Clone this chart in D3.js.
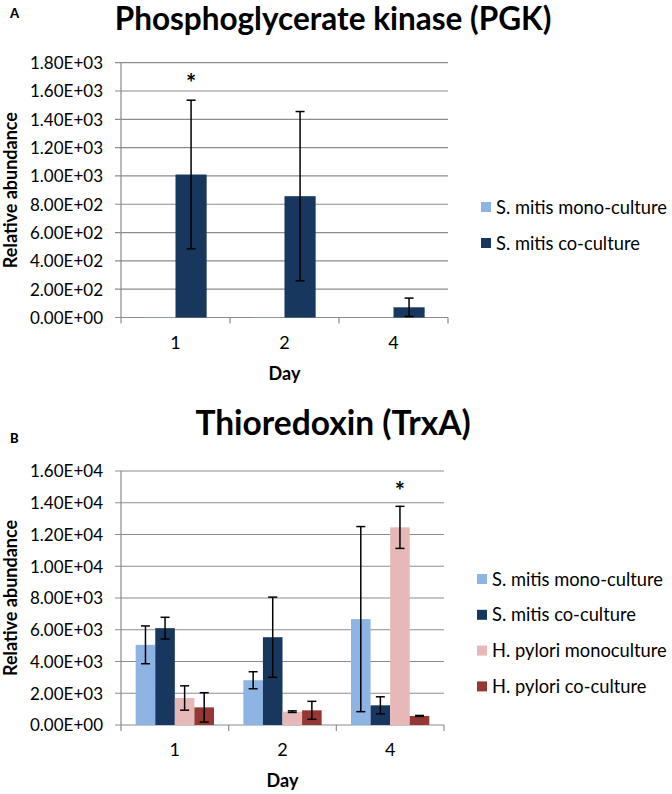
<!DOCTYPE html>
<html>
<head>
<meta charset="utf-8">
<script src="https://cdn.jsdelivr.net/npm/d3@7"></script>
<style>
  body { margin: 0; background: #fff; }
  text { font-family: Lato, "Open Sans", sans-serif; }
</style>
</head>
<body>
<svg id="fig" width="672" height="794"></svg>
<script>
// ---- data ----
const days = ["1", "2", "4"];

const pgkSeries = ["S. mitis mono-culture", "S. mitis co-culture"];
const pgkMono = [2, 2, 1];
const pgkMonoErr = [0, 0, 0];
const pgkCo = [1010, 857, 72];
const pgkCoErr = [525, 598, 65];

const trxSeries = ["S. mitis mono-culture", "S. mitis co-culture", "H. pylori monoculture", "H. pylori co-culture"];
const trxSMono = [5050, 2820, 6670];
const trxSMonoErr = [1190, 536, 5830];
const trxSCo = [6100, 5530, 1240];
const trxSCoErr = [685, 2525, 537];
const trxHMono = [1700, 840, 12450];
const trxHMonoErr = [767, 50, 1325];
const trxHCo = [1110, 925, 570];
const trxHCoErr = [925, 567, 30];

const pgkStars = [{ day: "1", series: 1 }];
const trxStars = [{ day: "4", series: 2 }];

const colors = ["#8eb4e3", "#17375e", "#e6b9b8", "#953735"];

const svg = d3.select("#fig");
const fmt = v => {
  const [m, e] = v.toExponential(2).split("e");
  const n = Math.abs(+e);
  return m + "E" + (+e < 0 ? "-" : "+") + (n < 10 ? "0" + n : n);
};

function drawChart(cfg) {
  const g = svg.append("g");
  const y = d3.scaleLinear().domain([0, cfg.yMax]).range([cfg.bottom, cfg.top]);
  const x = d3.scaleBand().domain(days).range([cfg.left, cfg.right]);
  const inner = d3.scaleBand().domain(d3.range(cfg.values.length))
    .range([0, x.bandwidth()]).paddingInner(0).paddingOuter(0.75);

  // panel letter and title
  g.append("text").attr("x", 10).attr("y", cfg.letterY)
    .attr("font-size", 13).attr("font-weight", 900).text(cfg.letter);
  g.append("text").attr("x", 333).attr("y", cfg.titleY)
    .attr("text-anchor", "middle").attr("font-size", cfg.titleSize).attr("font-weight", 700)
    .text(cfg.title);

  // gridlines + y ticks
  const ticks = d3.range(0, cfg.yMax + 1, cfg.step);
  g.append("g").selectAll("line").data(ticks).join("line")
    .attr("x1", cfg.left - 6).attr("x2", cfg.right)
    .attr("y1", d => y(d)).attr("y2", d => y(d))
    .attr("stroke", "#8c8c8c").attr("stroke-width", 1.2);
  g.append("g").selectAll("text").data(ticks).join("text")
    .attr("x", cfg.left - 18).attr("y", d => y(d)).attr("dy", "0.38em")
    .attr("text-anchor", "end").attr("font-size", 17).attr("fill", "#000")
    .text(fmt);

  // axes
  g.append("line").attr("x1", cfg.left).attr("x2", cfg.left)
    .attr("y1", cfg.top).attr("y2", cfg.bottom)
    .attr("stroke", "#8c8c8c").attr("stroke-width", 1.2);
  g.append("g").selectAll("line").data([...days.map(d => x(d)), cfg.right]).join("line")
    .attr("x1", d => d).attr("x2", d => d)
    .attr("y1", cfg.bottom).attr("y2", cfg.bottom + 6)
    .attr("stroke", "#8c8c8c").attr("stroke-width", 1.2);

  // bars
  cfg.values.forEach((vals, s) => {
    g.append("g").selectAll("rect").data(vals).join("rect")
      .attr("x", (d, i) => x(days[i]) + inner(s))
      .attr("width", inner.bandwidth())
      .attr("y", d => y(d))
      .attr("height", d => cfg.bottom - y(d))
      .attr("fill", colors[s]);
  });

  // error bars
  const cap = 4.5;
  cfg.values.forEach((vals, s) => {
    vals.forEach((v, i) => {
      const e = cfg.errors[s][i];
      if (!e) return;
      const cx = x(days[i]) + inner(s) + inner.bandwidth() / 2;
      const lo = y(Math.max(0, v - e)), hi = y(v + e);
      const eb = g.append("g").attr("stroke", "#000").attr("stroke-width", 1.5);
      eb.append("line").attr("x1", cx).attr("x2", cx).attr("y1", hi).attr("y2", lo);
      eb.append("line").attr("x1", cx - cap).attr("x2", cx + cap).attr("y1", hi).attr("y2", hi);
      eb.append("line").attr("x1", cx - cap).attr("x2", cx + cap).attr("y1", lo).attr("y2", lo);
    });
  });

  // significance stars
  cfg.stars.forEach(st => {
    const i = days.indexOf(st.day);
    const v = cfg.values[st.series][i] + cfg.errors[st.series][i];
    g.append("text")
      .attr("x", x(st.day) + inner(st.series) + inner.bandwidth() / 2)
      .attr("y", y(v) - cfg.starGap)
      .attr("text-anchor", "middle").attr("font-size", 24).attr("font-weight", 700)
      .text("*");
  });

  // x tick labels and titles
  g.append("g").selectAll("text").data(days).join("text")
    .attr("x", d => x(d) + x.bandwidth() / 2).attr("y", cfg.bottom + 31)
    .attr("text-anchor", "middle").attr("font-size", 18).attr("fill", "#000")
    .text(d => d);
  g.append("text").attr("x", (cfg.left + cfg.right) / 2).attr("y", cfg.bottom + 62)
    .attr("text-anchor", "middle").attr("font-size", 18).attr("font-weight", 700)
    .text("Day");
  g.append("text")
    .attr("transform", `translate(17,${(cfg.top + cfg.bottom) / 2}) rotate(-90)`)
    .attr("text-anchor", "middle").attr("font-size", 18).attr("font-weight", 700)
    .text("Relative abundance");

  // legend
  const lg = g.append("g").selectAll("g").data(cfg.series).join("g")
    .attr("transform", (d, i) => `translate(${cfg.legendX},${cfg.legendY + i * cfg.legendStep})`);
  lg.append("rect").attr("x", 0).attr("y", -5).attr("width", 10).attr("height", 10)
    .attr("fill", (d, i) => colors[i]);
  lg.append("text").attr("x", 15).attr("y", 0).attr("dy", "0.36em")
    .attr("font-size", 18.3).attr("fill", "#000").text(d => d);
}

drawChart({
  letter: "A", letterY: 18, title: "Phosphoglycerate kinase (PGK)", titleY: 29.5, titleSize: 31.5,
  top: 62.7, bottom: 317.5, left: 121, right: 448, yMax: 1800, step: 200,
  series: pgkSeries, values: [pgkMono, pgkCo], errors: [pgkMonoErr, pgkCoErr],
  stars: pgkStars, starGap: 8,
  legendX: 481, legendY: 207, legendStep: 36
});

drawChart({
  letter: "B", letterY: 443, title: "Thioredoxin (TrxA)", titleY: 435, titleSize: 33.5,
  top: 471, bottom: 725, left: 121, right: 444, yMax: 16000, step: 2000,
  series: trxSeries, values: [trxSMono, trxSCo, trxHMono, trxHCo],
  errors: [trxSMonoErr, trxSCoErr, trxHMonoErr, trxHCoErr],
  stars: trxStars, starGap: 6,
  legendX: 477, legendY: 579, legendStep: 35.8
});
</script>
</body>
</html>
